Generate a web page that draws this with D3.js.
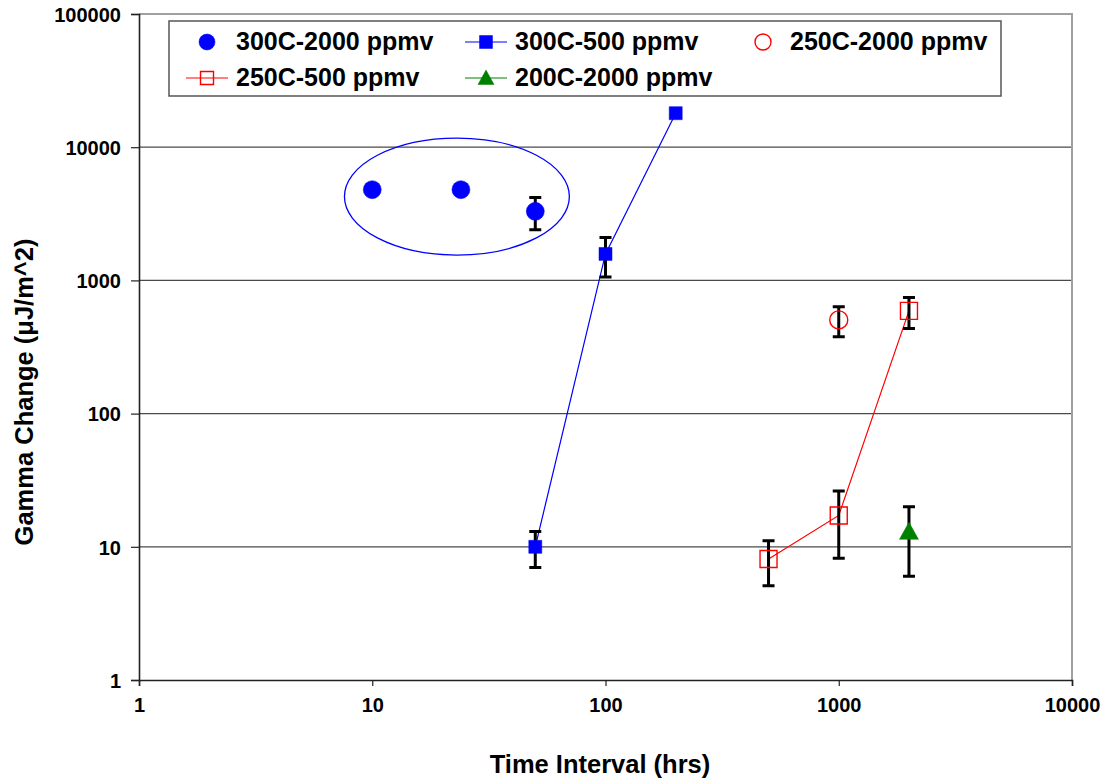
<!DOCTYPE html>
<html>
<head>
<meta charset="utf-8">
<script src="https://cdnjs.cloudflare.com/ajax/libs/d3/7.8.5/d3.min.js"></script>
<style>
    body { margin: 0; background: #fff; }
    text { font-family: "Liberation Sans", Arial, sans-serif; font-weight: bold; fill: #000; }
</style>
</head>
<body>
<svg id="chart"></svg>
<script>
/*global d3*/

// axis ticks
var xTicks = [1, 10, 100, 1000, 10000];
var yTicks = [1, 10, 100, 1000, 10000, 100000];

// 300C-2000 ppmv
var hrs300c2000 = [10, 24, 50];
var gamma300c2000 = [4800, 4800, 3300];
var err300c2000 = [0, 0, 900];

// 300C-500 ppmv
var hrs300c500 = [50, 100, 200];
var gamma300c500 = [10, 1580, 18000];
var err300c500 = [3, 520, 0];

// 250C-2000 ppmv
var hrs250c2000 = [1000];
var gamma250c2000 = [505];
var err250c2000 = [128];

// 250C-500 ppmv
var hrs250c500 = [500, 1000, 2000];
var gamma250c500 = [8.1, 17.2, 590];
var err250c500 = [3, 9, 155];

// 200C-2000 ppmv
var hrs200c2000 = [2000];
var gamma200c2000 = [13];
var err200c2000 = [7];

// the hand drawn ring round the 300C-2000 points (hrs, gamma extents)
var ringHrs = [7.6, 70];
var ringGamma = [1550, 11700];

var W = 1106, H = 780;
var margin = {top: 14, right: 34, bottom: 100, left: 139};
var width = W - margin.left - margin.right;
var height = H - margin.top - margin.bottom;

var svg = d3.select("#chart").attr("width", W).attr("height", H);

var x = d3.scaleLog().domain([1, 10000]).range([0, width]);
var y = d3.scaleLog().domain([1, 100000]).range([height, 0]);

var root = svg.append("g")
    .attr("transform", "translate(" + margin.left + "," + margin.top + ")");

function zip(hrs, gamma, err) {
    return hrs.map(function (h, i) {
        return {hrs: h, gamma: gamma[i], err: err[i]};
    });
}

var series = [
    {name: "300C-2000 ppmv", data: zip(hrs300c2000, gamma300c2000, err300c2000),
        shape: "circle", color: "#0000ff", filled: true, line: false, size: 9},
    {name: "300C-500 ppmv", data: zip(hrs300c500, gamma300c500, err300c500),
        shape: "square", color: "#0000ff", filled: true, line: true, size: 13},
    {name: "250C-2000 ppmv", data: zip(hrs250c2000, gamma250c2000, err250c2000),
        shape: "circle", color: "#ff0000", filled: false, line: false, size: 9},
    {name: "250C-500 ppmv", data: zip(hrs250c500, gamma250c500, err250c500),
        shape: "square", color: "#ff0000", filled: false, line: true, size: 17},
    {name: "200C-2000 ppmv", data: zip(hrs200c2000, gamma200c2000, err200c2000),
        shape: "triangle", color: "#008000", filled: true, line: false, size: 19}
];

// grid lines
root.selectAll("line.grid")
    .data(yTicks.slice(1, -1))
    .enter()
    .append("line")
    .attr("class", "grid")
    .attr("x1", 0).attr("x2", width)
    .attr("y1", function (d) { return y(d); })
    .attr("y2", function (d) { return y(d); })
    .attr("stroke", "#4a4a4a")
    .attr("stroke-width", 1.3);

// top and right frame
root.append("path")
    .attr("d", "M0,0H" + width + "V" + height)
    .attr("fill", "none")
    .attr("stroke", "#a0a0a0")
    .attr("stroke-width", 2);

// Add the X Axis
var gx = root.append("g")
    .attr("transform", "translate(0," + height + ")")
    .call(d3.axisBottom(x).tickValues(xTicks).tickFormat(d3.format("d")).tickSize(6).tickPadding(12));

// Add the Y Axis
var gy = root.append("g")
    .call(d3.axisLeft(y).tickValues(yTicks).tickFormat(d3.format("d")).tickSize(8).tickPadding(10));

[gx, gy].forEach(function (g) {
    g.select(".domain").attr("stroke", "#222").attr("stroke-width", 1.6);
    g.selectAll(".tick line").attr("stroke", "#222").attr("stroke-width", 1.2);
    g.selectAll(".tick text")
        .style("font-size", "20px")
        .style("font-family", "'Liberation Sans', Arial, sans-serif")
        .style("font-weight", "bold")
        .attr("fill", "#000");
});
gy.selectAll(".tick text").attr("dy", "0.36em");

// ring
root.append("ellipse")
    .attr("cx", (x(ringHrs[0]) + x(ringHrs[1])) / 2)
    .attr("cy", (y(ringGamma[0]) + y(ringGamma[1])) / 2)
    .attr("rx", (x(ringHrs[1]) - x(ringHrs[0])) / 2)
    .attr("ry", (y(ringGamma[0]) - y(ringGamma[1])) / 2)
    .attr("fill", "none")
    .attr("stroke", "#0000ff")
    .attr("stroke-width", 1.3);

var valueLine = d3.line()
    .x(function (d) { return x(d.hrs); })
    .y(function (d) { return y(d.gamma); });

function symbolPath(shape, size) {
    var h = size / 2;
    if (shape === "square") {
        return "M" + (-h) + "," + (-h) + "H" + h + "V" + h + "H" + (-h) + "Z";
    }
    if (shape === "triangle") {
        var th = size * 0.9;
        return "M0," + (-th * 0.55) + "L" + h + "," + (th * 0.45) + "L" + (-h) + "," + (th * 0.45) + "Z";
    }
    return "M" + (-size) + ",0A" + size + "," + size + " 0 1,0 " + size + ",0A" + size + "," + size + " 0 1,0 " + (-size) + ",0Z";
}

function drawMarker(sel, s, size) {
    sel.append("path")
        .attr("d", symbolPath(s.shape, size))
        .attr("fill", s.filled ? s.color : "none")
        .attr("stroke", s.color)
        .attr("stroke-width", s.filled ? 0.5 : 1.4);
}

// lines
series.filter(function (s) { return s.line; }).forEach(function (s) {
    root.append("path")
        .datum(s.data)
        .attr("d", valueLine)
        .attr("fill", "none")
        .attr("stroke", s.color)
        .attr("stroke-width", 1.2);
});

// error bars
series.forEach(function (s) {
    s.data.filter(function (d) { return d.err > 0; }).forEach(function (d) {
        var cx = x(d.hrs), y0 = y(d.gamma + d.err), y1 = y(d.gamma - d.err);
        root.append("path")
            .attr("d", "M" + cx + "," + y0 + "V" + y1 +
                "M" + (cx - 6) + "," + y0 + "H" + (cx + 6) +
                "M" + (cx - 6) + "," + y1 + "H" + (cx + 6))
            .attr("fill", "none")
            .attr("stroke", "#000")
            .attr("stroke-width", 3);
    });
});

// markers
series.forEach(function (s) {
    s.data.forEach(function (d) {
        var g = root.append("g")
            .attr("transform", "translate(" + x(d.hrs) + "," + y(d.gamma) + ")");
        drawMarker(g, s, s.size);
    });
});

// legend
var legend = svg.append("g");
legend.append("rect")
    .attr("x", 169).attr("y", 21)
    .attr("width", 832).attr("height", 75)
    .attr("fill", "#fff")
    .attr("stroke", "#555")
    .attr("stroke-width", 1.5);

var legendPos = [[207, 42], [486, 42], [763, 42], [207, 78], [486, 78]];
var legendSize = {circle: 8, square: 13, triangle: 16};

series.forEach(function (s, i) {
    var p = legendPos[i];
    var g = legend.append("g").attr("transform", "translate(" + p[0] + "," + p[1] + ")");
    if (s.line || i === 4) {
        g.append("line")
            .attr("x1", -21).attr("x2", 21)
            .attr("stroke", s.color)
            .attr("stroke-width", 1.2);
    }
    drawMarker(g, s, legendSize[s.shape]);
    g.append("text")
        .attr("x", i === 2 ? 27 : 29)
        .attr("y", 8)
        .style("font-size", "25px")
        .text(s.name);
});

// axis titles
svg.append("text")
    .attr("x", 600)
    .attr("y", 773)
    .attr("text-anchor", "middle")
    .style("font-size", "25.5px")
    .text("Time Interval (hrs)");

svg.append("text")
    .attr("transform", "translate(33,392) rotate(-90)")
    .attr("text-anchor", "middle")
    .style("font-size", "25.5px")
    .text("Gamma Change (\u03bcJ/m^2)");
</script>
</body>
</html>
